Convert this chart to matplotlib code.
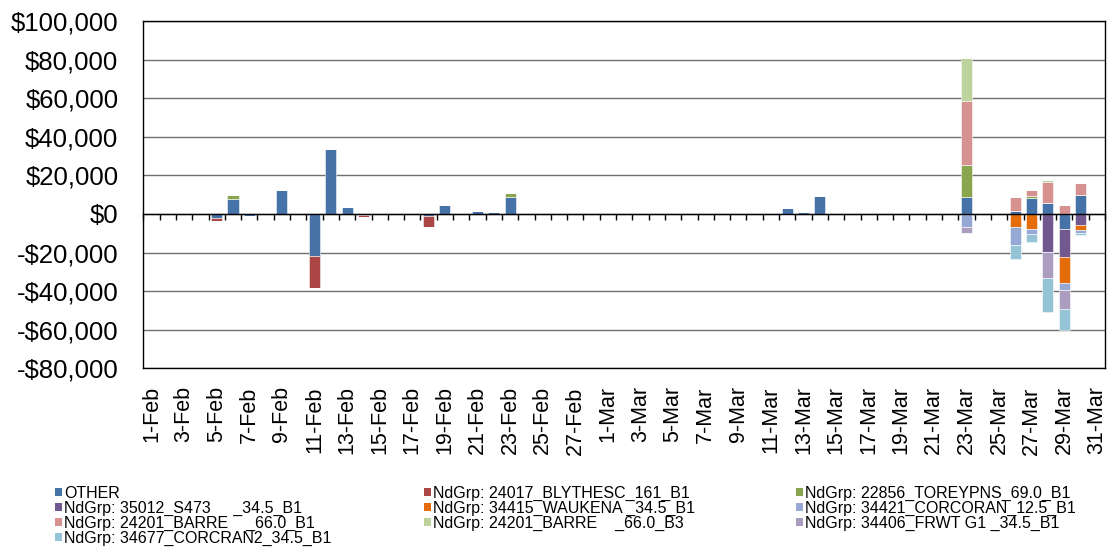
import matplotlib
matplotlib.use("Agg")
import matplotlib.pyplot as plt
import numpy as np
from matplotlib.patches import Patch
from matplotlib.ticker import FuncFormatter

plt.rcParams['font.family'] = ['Liberation Sans', 'DejaVu Sans']

# ---- categories (1-Feb .. 31-Mar) ----
feb_days = list(range(1, 29))
mar_days = list(range(1, 32))
categories = [f"{d}-Feb" for d in feb_days] + [f"{d}-Mar" for d in mar_days]

# ---- series (sparse values by date) ----
series_names = [
    "OTHER",
    "NdGrp: 24017_BLYTHESC_161_B1",
    "NdGrp: 22856_TOREYPNS_69.0_B1",
    "NdGrp: 35012_S473     _34.5_B1",
    "NdGrp: 34415_WAUKENA _34.5_B1",
    "NdGrp: 34421_CORCORAN_12.5_B1",
    "NdGrp: 24201_BARRE    _66.0_B1",
    "NdGrp: 24201_BARRE    _66.0_B3",
    "NdGrp: 34406_FRWT G1 _34.5_B1",
    "NdGrp: 34677_CORCRAN2_34.5_B1",
]
series_colors = ['#4572A7', '#AA4643', '#89A54E', '#71588F', '#E46C0A',
                 '#96A9D4', '#D69290', '#BDD29C', '#AA9DC0', '#94C4D6']

other = {"5-Feb": -1900, "6-Feb": 7800, "7-Feb": -1300, "9-Feb": 12400,
         "11-Feb": -21700, "12-Feb": 33600, "13-Feb": 3600, "14-Feb": -300,
         "18-Feb": -900, "19-Feb": 4500, "21-Feb": 1400, "22-Feb": 900,
         "23-Feb": 9000, "12-Mar": 2900, "13-Mar": 900, "14-Mar": 9200,
         "23-Mar": 9000, "26-Mar": 1550, "27-Mar": 8500, "28-Mar": 5500,
         "29-Mar": -8000, "30-Mar": 9900}
blythesc = {"5-Feb": -1550, "11-Feb": -16550, "14-Feb": -1400,
            "18-Feb": -5900, "12-Mar": -600}
toreypns = {"6-Feb": 1900, "23-Feb": 1700, "23-Mar": 16400, "27-Mar": 1000}
s473 = {"28-Mar": -19900, "29-Mar": -14400, "30-Mar": -5900}
waukena = {"26-Mar": -6750, "27-Mar": -7600, "29-Mar": -13500, "30-Mar": -2400}
corcoran = {"23-Mar": -6900, "26-Mar": -9500, "27-Mar": -2900,
            "29-Mar": -3600, "30-Mar": -1700}
barre_b1 = {"23-Mar": 32900, "26-Mar": 7400, "27-Mar": 3100,
            "28-Mar": 11200, "29-Mar": 4700, "30-Mar": 6000}
barre_b3 = {"23-Mar": 22500, "28-Mar": 700}
frwt = {"23-Mar": -2800, "28-Mar": -13500, "29-Mar": -9900}
corcran2 = {"26-Mar": -7270, "27-Mar": -4000, "28-Mar": -17300,
            "29-Mar": -10500, "30-Mar": -700}

series_data = [other, blythesc, toreypns, s473, waukena, corcoran,
               barre_b1, barre_b3, frwt, corcran2]

yticks = list(range(-80000, 100001, 20000))

# ---- figure ----
fig = plt.figure(figsize=(11.11, 5.5), dpi=100)
ax = fig.add_axes([0.129, 0.3304, 0.8656, 0.6314])

x = np.arange(len(categories))
pos_bottom = np.zeros(len(categories))
neg_bottom = np.zeros(len(categories))
handles = []
for name, data, col in zip(series_names, series_data, series_colors):
    vals = np.array([data.get(c, 0) for c in categories], dtype=float)
    pos = np.where(vals > 0, vals, 0)
    neg = np.where(vals < 0, vals, 0)
    ax.bar(x, pos, 0.68, bottom=pos_bottom, color=col,
           edgecolor=(1, 1, 1, 0.6), linewidth=0.6, zorder=3)
    ax.bar(x, neg, 0.68, bottom=neg_bottom, color=col,
           edgecolor=(1, 1, 1, 0.6), linewidth=0.6, zorder=3)
    pos_bottom += pos
    neg_bottom += neg
    handles.append(Patch(facecolor=col, edgecolor='none', label=name))

ax.set_xlim(-0.5, len(categories) - 0.5)
ax.set_ylim(yticks[0], yticks[-1])
ax.set_yticks(yticks)
ax.yaxis.set_major_formatter(FuncFormatter(
    lambda v, p: f"-${abs(v):,.0f}" if v < 0 else f"${v:,.0f}"))
ax.tick_params(axis='y', length=0, pad=18, labelsize=18.5)
ax.grid(axis='y', color='#6f6f6f', linewidth=1.0, zorder=0)

# zero axis with category-boundary ticks
ax.spines['bottom'].set_position(('data', 0))
ax.spines['bottom'].set_zorder(4)
ax.set_xticks(np.arange(len(categories) + 1) - 0.5)
ax.tick_params(axis='x', direction='out', length=4.3, width=1,
               labelbottom=False, color='black')
for s in ['left', 'right', 'top']:
    ax.spines[s].set_color('black')
    ax.spines[s].set_linewidth(1.0)
ax.spines['bottom'].set_linewidth(1.0)

# bottom labels axis
sec = ax.secondary_xaxis(0.0)
sec.set_xticks(x[::2])
sec.set_xticklabels(categories[::2], rotation=90, fontsize=15.5)
sec.tick_params(length=0, pad=13)
sec.spines['bottom'].set_color('black')
sec.spines['bottom'].set_linewidth(1.0)

# legend in three columns
col_groups = [[0, 3, 6, 9], [1, 4, 7], [2, 5, 8]]
col_x = [0.0495, 0.3817, 0.7165]
for grp, cx in zip(col_groups, col_x):
    fig.legend([handles[i] for i in grp], [series_names[i] for i in grp],
               loc='upper left', bbox_to_anchor=(cx, 0.117),
               frameon=False, fontsize=11.5, handlelength=0.42,
               handleheight=0.42, handletextpad=0.15,
               labelspacing=0.0, borderpad=0, borderaxespad=0)

fig.savefig("out.png", dpi=100)
